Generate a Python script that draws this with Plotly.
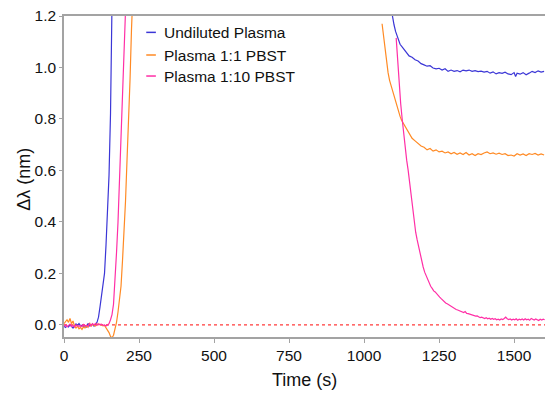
import plotly.graph_objects as go

# ---------------- data ----------------
series_names = ["Undiluted Plasma", "Plasma 1:1 PBST", "Plasma 1:10 PBST"]
series_colors = ["#3b36d6", "#ff8a24", "#ff2fa6"]

# Undiluted plasma
undiluted_t1 = [0, 5, 10, 15, 20, 25, 30, 35, 40, 45, 50, 55, 60, 65, 70, 75, 80, 85, 90, 95, 100, 105,
                110, 115, 120, 125, 130, 135, 140, 145, 150, 155, 160]
undiluted_v1 = [-0.005, -0.01, -0.004, -0.008, 0.0, -0.006, -0.012, -0.003, 0.004, -0.002, 0.005, -0.004,
                -0.001, -0.006, -0.003, -0.008, 0.006, -0.004, -0.002, 0.003, -0.005, 0.0,
                0.01, 0.03, 0.07, 0.11, 0.14, 0.2, 0.31, 0.43, 0.58, 0.82, 1.25]
undiluted_t2 = [1090, 1094, 1100, 1105, 1110, 1115, 1120, 1130, 1140, 1150, 1160, 1170, 1180, 1190, 1200,
                1210, 1220, 1230, 1240, 1250, 1260, 1270, 1280, 1290, 1300, 1310, 1320, 1330, 1340, 1350,
                1360, 1370, 1380, 1390, 1400, 1410, 1420, 1430, 1440, 1450, 1460, 1470, 1480, 1490, 1500,
                1505, 1510, 1520, 1530, 1540, 1550, 1560, 1570, 1580, 1590, 1600]
undiluted_v2 = [1.23, 1.2, 1.165, 1.14, 1.12, 1.105, 1.09, 1.075, 1.06, 1.045, 1.04, 1.03, 1.025, 1.015, 1.01,
                1.005, 1.007, 0.998, 0.995, 0.997, 0.99, 0.995, 0.985, 0.99, 0.985, 0.988, 0.983, 0.99, 0.987,
                0.99, 0.985, 0.988, 0.984, 0.986, 0.982, 0.985, 0.978, 0.983, 0.975, 0.98, 0.977, 0.982, 0.975,
                0.972, 0.98, 0.965, 0.978, 0.974, 0.98, 0.972, 0.978, 0.985, 0.98, 0.987, 0.982, 0.985]

# Plasma 1:1 PBST
pbst11_t1 = [0, 5, 10, 15, 20, 25, 30, 35, 40, 45, 50, 55, 60, 65, 70, 75, 80, 85, 90, 95, 100, 105, 110,
             115, 120, 125, 130, 135, 140, 145, 150, 155, 160, 165, 170, 175, 180, 185, 190, 195, 200, 205,
             210, 215, 220, 225, 230]
pbst11_v1 = [0.005, 0.012, 0.02, 0.01, 0.025, 0.005, 0.015, -0.005, -0.012, -0.005, -0.015, -0.01, -0.018,
             -0.008, -0.012, -0.004, -0.01, 0.008, -0.006, 0.002, 0.0, -0.004, 0.004, 0.0, 0.003, -0.002,
             -0.004, -0.002, -0.01, -0.02, -0.03, -0.045, -0.05, -0.04, -0.02, 0.01, 0.05, 0.09, 0.15, 0.25,
             0.36, 0.48, 0.64, 0.78, 0.95, 1.15, 1.3]
pbst11_t2 = [1060, 1065, 1070, 1075, 1080, 1085, 1090, 1095, 1100, 1105, 1110, 1115, 1120, 1125, 1130, 1135,
             1140, 1150, 1160, 1170, 1180, 1190, 1200, 1210, 1220, 1230, 1240, 1250, 1260, 1270, 1280, 1290,
             1300, 1310, 1320, 1330, 1340, 1350, 1360, 1370, 1380, 1390, 1400, 1410, 1420, 1430, 1440, 1450,
             1460, 1470, 1480, 1490, 1500, 1510, 1520, 1530, 1540, 1550, 1560, 1570, 1580, 1590, 1600]
pbst11_v2 = [1.17, 1.12, 1.07, 1.02, 0.98, 0.95, 0.93, 0.9, 0.89, 0.87, 0.845, 0.825, 0.81, 0.795, 0.785,
             0.775, 0.76, 0.745, 0.725, 0.715, 0.705, 0.695, 0.69, 0.68, 0.685, 0.675, 0.68, 0.672, 0.675,
             0.668, 0.672, 0.665, 0.67, 0.663, 0.668, 0.662, 0.67, 0.66, 0.665, 0.658, 0.665, 0.662, 0.668,
             0.672, 0.665, 0.668, 0.663, 0.667, 0.662, 0.665, 0.658, 0.66, 0.656, 0.665, 0.66, 0.664, 0.658,
             0.665, 0.662, 0.666, 0.66, 0.664, 0.66]

# Plasma 1:10 PBST
pbst110_t1 = [0, 5, 10, 15, 20, 25, 30, 35, 40, 45, 50, 55, 60, 65, 70, 75, 80, 85, 90, 95, 100, 105, 110,
              115, 120, 125, 130, 135, 140, 145, 150, 155, 160, 165, 170, 175, 180, 185, 190, 195, 200, 205]
pbst110_v1 = [-0.005, 0.0, -0.008, -0.004, 0.003, -0.006, -0.002, -0.008, 0.0, -0.004, -0.006, -0.002,
              -0.007, 0.002, -0.004, -0.001, -0.006, 0.004, -0.003, 0.005, 0.0, 0.006, -0.002, 0.004, 0.0,
              0.003, -0.002, 0.0, -0.004, 0.0, 0.005, 0.02, 0.04, 0.08, 0.17, 0.28, 0.4, 0.55, 0.7, 0.86,
              1.02, 1.22]
pbst110_t2 = [1107, 1112, 1117, 1122, 1127, 1132, 1137, 1142, 1147, 1152, 1157, 1162, 1167, 1172, 1177, 1182,
              1187, 1192, 1197, 1202, 1207, 1212, 1217, 1222, 1227, 1232, 1237, 1242, 1247, 1252, 1257, 1262,
              1267, 1272, 1277, 1282, 1287, 1292, 1297, 1302, 1307, 1312, 1317, 1322, 1327, 1332, 1337, 1342,
              1347, 1352, 1357, 1362, 1367, 1372, 1377, 1382, 1387, 1392, 1397, 1402, 1407, 1412, 1417, 1422,
              1427, 1432, 1437, 1442, 1447, 1452, 1457, 1462, 1467, 1472, 1477, 1482, 1487, 1492, 1497, 1502,
              1507, 1512, 1517, 1522, 1527, 1532, 1537, 1542, 1547, 1552, 1557, 1562, 1567, 1572, 1577, 1582,
              1587, 1592, 1597, 1602]
pbst110_v2 = [1.115, 1.02, 0.93, 0.86, 0.8, 0.74, 0.68, 0.64, 0.6, 0.55, 0.49, 0.44, 0.395, 0.36, 0.33, 0.3,
              0.27, 0.245, 0.225, 0.205, 0.19, 0.175, 0.165, 0.15, 0.142, 0.132, 0.128, 0.12, 0.115, 0.108,
              0.102, 0.095, 0.09, 0.085, 0.082, 0.078, 0.073, 0.07, 0.066, 0.064, 0.06, 0.058, 0.055, 0.052,
              0.05, 0.048, 0.052, 0.045, 0.044, 0.042, 0.04, 0.038, 0.036, 0.034, 0.035, 0.03, 0.028, 0.03,
              0.026, 0.025, 0.028, 0.024, 0.026, 0.022, 0.025, 0.022, 0.024, 0.02, 0.022, 0.019, 0.023, 0.021,
              0.025, 0.03, 0.024, 0.021, 0.023, 0.019, 0.022, 0.02, 0.024, 0.018, 0.022, 0.02, 0.023, 0.019,
              0.024, 0.02, 0.022, 0.018, 0.025, 0.021, 0.019, 0.023, 0.02, 0.017, 0.022, 0.019, 0.022, 0.02]

x_tick_values = [0, 250, 500, 750, 1000, 1250, 1500]
y_tick_values = [0.0, 0.2, 0.4, 0.6, 0.8, 1.0, 1.2]
baseline_value = 0.0
x_title = "Time (s)"
y_title = "Δλ (nm)"

segments = [
    (undiluted_t1, undiluted_v1, undiluted_t2, undiluted_v2),
    (pbst11_t1, pbst11_v1, pbst11_t2, pbst11_v2),
    (pbst110_t1, pbst110_v1, pbst110_t2, pbst110_v2),
]

FONT = "Arial, 'Liberation Sans', Helvetica, sans-serif"
AXIS_GRAY = "#a3a3a3"
TXT = "#111111"

fig = go.Figure()

# red dotted zero line
fig.add_shape(type="line", xref="paper", x0=0, x1=1, yref="y", y0=baseline_value, y1=baseline_value,
              line=dict(color="#ff3b3b", width=1.2, dash="dot"), layer="below")

for name, color, (t1, v1, t2, v2) in zip(series_names, series_colors, segments):
    fig.add_trace(go.Scatter(
        x=t1 + [None] + t2,
        y=v1 + [None] + v2,
        mode="lines",
        name=name,
        line=dict(color=color, width=1.2),
        connectgaps=False,
        showlegend=False,
    ))

# manual legend (short line samples + text)
legend_y = [0.949, 0.8785, 0.813]
for name, color, ly in zip(series_names, series_colors, legend_y):
    fig.add_shape(type="line", xref="paper", yref="paper", x0=0.171, x1=0.191, y0=ly, y1=ly,
                  line=dict(color=color, width=1.5))
    fig.add_annotation(xref="paper", yref="paper", x=0.203, y=ly, text=name, showarrow=False,
                       xanchor="left", yanchor="middle",
                       font=dict(family=FONT, size=15.5, color=TXT))

# axis titles
fig.add_annotation(xref="paper", yref="paper", x=0.5, y=-0.134, text=x_title, showarrow=False,
                   xanchor="center", yanchor="middle", font=dict(family=FONT, size=18, color=TXT))
fig.add_annotation(xref="paper", yref="paper", x=-0.083, y=0.49, text=y_title, showarrow=False,
                   textangle=-90, xanchor="center", yanchor="middle",
                   font=dict(family=FONT, size=18, color=TXT))

fig.update_layout(
    width=545, height=396,
    margin=dict(l=64, r=0, t=16, b=59, autoexpand=False),
    paper_bgcolor="white", plot_bgcolor="white",
    font=dict(family=FONT, color=TXT),
    showlegend=False,
)

fig.update_xaxes(
    range=[0, 1603], tickvals=x_tick_values, automargin=False,
    ticks="outside", ticklen=4, tickcolor=AXIS_GRAY, tickwidth=1,
    showline=True, linecolor=AXIS_GRAY, linewidth=1.6, mirror=True,
    showgrid=False, zeroline=False,
    tickfont=dict(family=FONT, size=15.5, color=TXT),
)
fig.update_yaxes(
    range=[-0.047, 1.2], tickvals=y_tick_values, tickformat=".1f", automargin=False,
    ticks="outside", ticklen=3, tickcolor=AXIS_GRAY, tickwidth=1,
    showline=True, linecolor=AXIS_GRAY, linewidth=1.6,
    showgrid=False, zeroline=False,
    tickfont=dict(family=FONT, size=15.5, color=TXT),
)

fig.write_html("out.html", config={"displayModeBar": False},
               post_script="document.body.style.margin='0';document.body.style.overflow='hidden';")
